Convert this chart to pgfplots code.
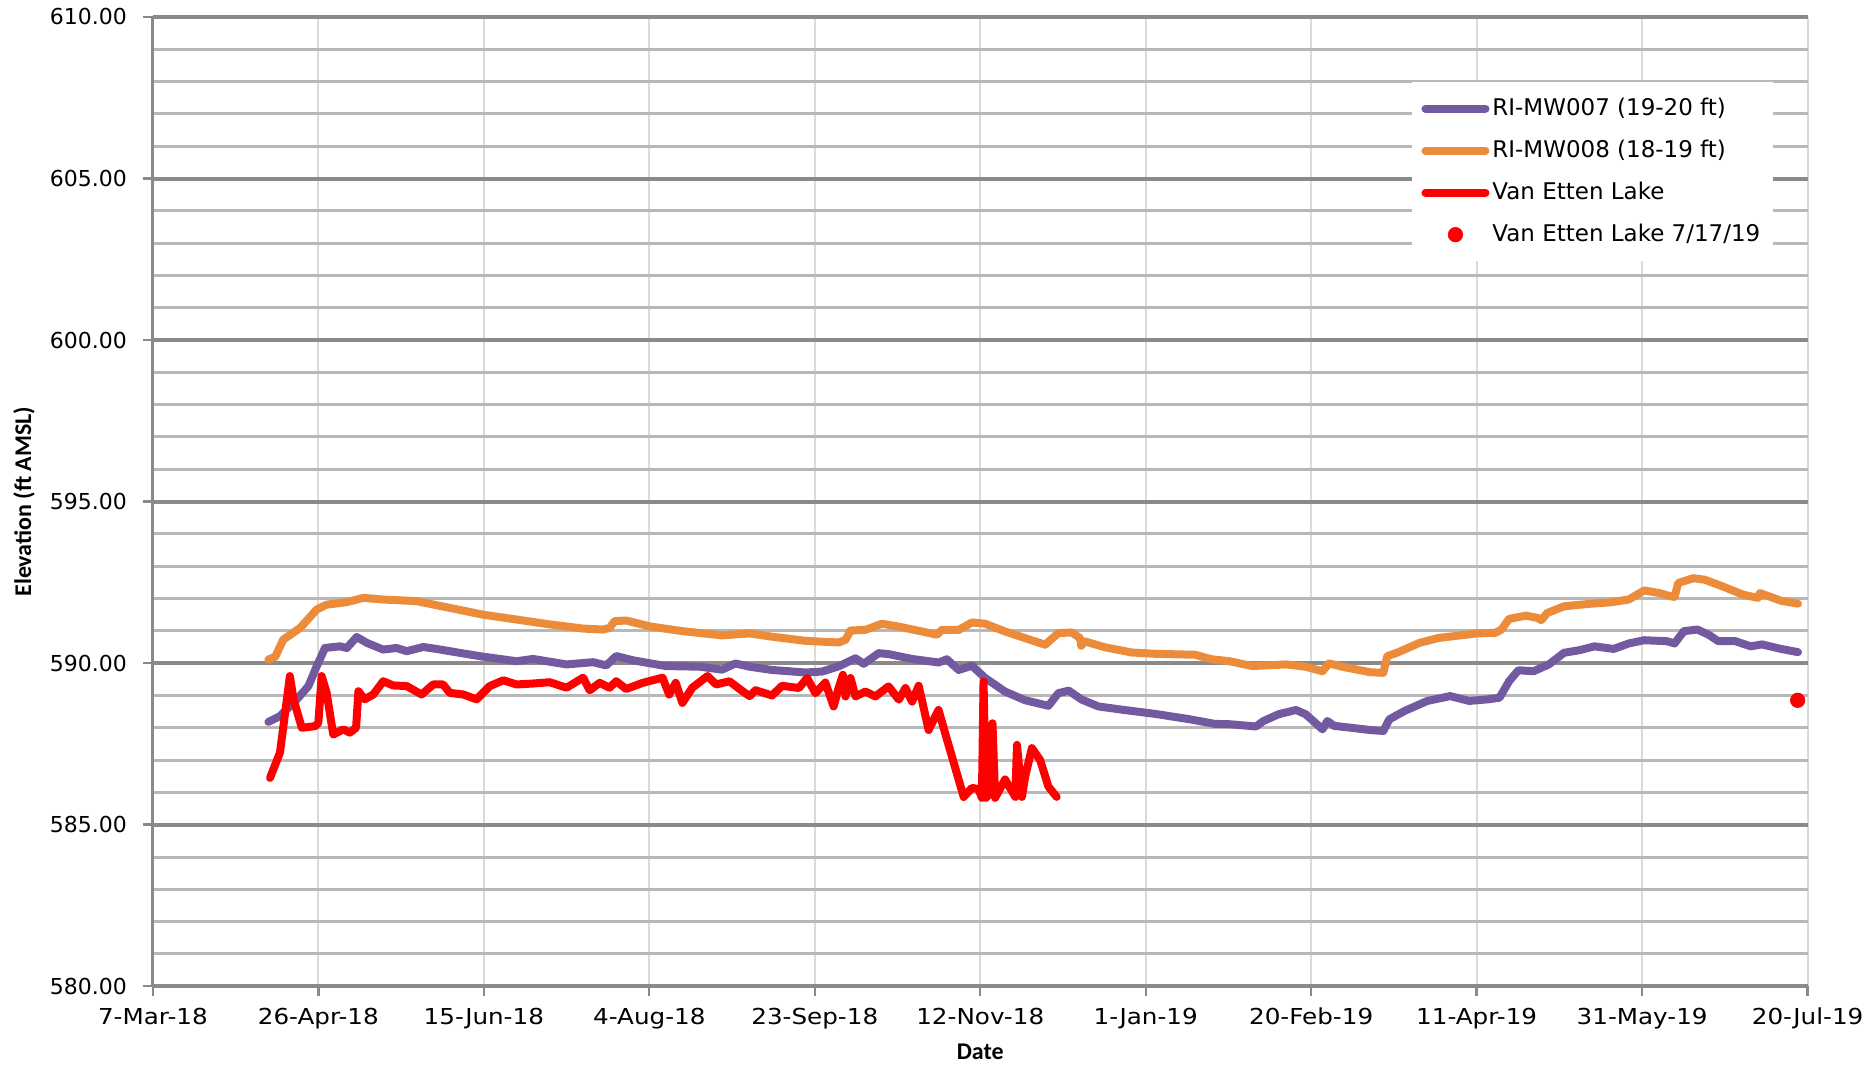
\documentclass[border=0pt]{standalone}
\usepackage{pgfplots}
\pgfplotsset{compat=1.18}
\usepackage{fontspec}
\setmainfont{DejaVu Sans}
\newfontfamily\carlito{Carlito}
\newfontfamily\widefont[FakeStretch=1.12]{DejaVu Sans}
\definecolor{mwpurple}{RGB}{115,90,160}
\definecolor{mworange}{RGB}{236,140,58}
\definecolor{lakered}{RGB}{255,0,0}
\definecolor{majgrid}{RGB}{138,138,138}
\definecolor{mingrid}{RGB}{184,184,184}
\definecolor{vgrid}{RGB}{218,218,218}
\begin{document}
\begin{tikzpicture}
\begin{axis}[
  scale only axis,
  width=828pt, height=485pt,
  xmin=0, xmax=500, ymin=580, ymax=610,
  xtick={0,50,...,500},
  xticklabels={7-Mar-18,26-Apr-18,15-Jun-18,4-Aug-18,23-Sep-18,12-Nov-18,1-Jan-19,20-Feb-19,11-Apr-19,31-May-19,20-Jul-19},
  ytick={580,585,...,610},
  minor ytick={581,582,583,584,586,587,588,589,591,592,593,594,596,597,598,599,601,602,603,604,606,607,608,609},
  yticklabel style={/pgf/number format/fixed, /pgf/number format/fixed zerofill, /pgf/number format/precision=2},
  /pgf/number format/assume math mode=true,
  tick label style={font=\fontsize{11}{13}\selectfont, text=black},
  yticklabel style={xshift=-4.5pt},
  xticklabel style={yshift=-2.5pt, font=\widefont\fontsize{11}{13}\selectfont},
  tick align=outside,
  major tick length=5pt,
  minor tick length=0pt,
  xtick style={draw=majgrid, line width=1.2pt},
  ytick style={draw=majgrid, line width=1.2pt},
  axis x line*=bottom, axis y line*=left,
  x axis line style={-, draw=majgrid, line width=2pt},
  y axis line style={-, draw=majgrid, line width=1.5pt},
  xmajorgrids, ymajorgrids, yminorgrids,
  x grid style={draw=vgrid, line width=0.9pt},
  y grid style={draw=majgrid, line width=2pt},
  minor y grid style={draw=mingrid, line width=1.5pt},
  xlabel={Date},
  ylabel={Elevation (ft AMSL)},
  xlabel style={font=\carlito\bfseries\fontsize{12}{14}\selectfont, at={(axis description cs:0.5,-0.068)}, anchor=center},
  ylabel style={font=\carlito\bfseries\fontsize{12}{14}\selectfont, at={(axis description cs:-0.0779,0.5)}, anchor=center},
  legend style={at={(rel axis cs:0.9795,0.933)}, anchor=north east, fill=white, draw=none,
    font=\fontsize{11.5}{13}\selectfont, row sep=6.8pt, inner xsep=5pt, inner ysep=6pt,
    nodes={inner xsep=1.5pt},
    /tikz/every even column/.append style={column sep=0pt}},
  legend cell align=left,
  legend image post style={line cap=round},
  legend image code/.code={\draw[#1] (0pt,0pt) -- (30pt,0pt);},
  every axis plot/.append style={line join=round, line cap=round},
]
% RI-MW007 (19-20 ft)
\addplot[color=mwpurple, line width=4pt] coordinates {
(34.9,588.18) (38.4,588.36) (43.5,588.88) (47,589.29) (49.5,589.9) (52,590.47) (56.5,590.52) (58.6,590.47) (61.6,590.81) (64.6,590.63) (69.6,590.42) (73.6,590.47) (76.7,590.37) (81.7,590.5) (85.7,590.44) (93.8,590.3) (99.8,590.2) (109.9,590.06) (114.9,590.13) (125,589.96) (133,590.03) (137,589.93) (140,590.22) (145,590.09) (155,589.91) (165.2,589.89) (172,589.8) (176,589.99) (180.3,589.89)
(187,589.79) (197.2,589.71) (202.2,589.74) (207.2,589.9) (212.3,590.15) (214.8,589.98) (219.3,590.31) (222.3,590.28) (229.4,590.13) (237.4,590.02) (239.9,590.12) (243.5,589.79) (247.5,589.92) (251.5,589.54) (257.5,589.12) (263.6,588.85) (270.6,588.68) (273.6,589.07) (276.7,589.15) (280.7,588.87) (285.7,588.66) (292.8,588.56) (302.8,588.43) (312.9,588.27) (320.9,588.12) (325.3,588.11)
(333.3,588.04) (335.6,588.21) (340.2,588.42) (345.4,588.55) (348.3,588.42) (351.7,588.11) (353.4,587.95) (354.9,588.21) (356.9,588.06) (362.1,588.0) (367.8,587.93) (371.8,587.9) (373.6,588.26) (378.2,588.52) (385.1,588.83) (392,588.98) (397.7,588.83) (403.4,588.88) (406.9,588.93) (409.8,589.44) (412.6,589.78) (417.2,589.75) (421.8,589.96) (426.4,590.32) (431,590.4) (435.6,590.52) (441.4,590.44) (446,590.61) (450.6,590.71) (457.5,590.68) (459.8,590.61) (462.6,590.99) (466.7,591.04) (470.1,590.88) (473,590.68) (478.2,590.68) (482.8,590.52) (486.2,590.58) (492,590.44) (497.1,590.34)
};
\addlegendentry{RI-MW007 (19-20 ft)}
% RI-MW008 (18-19 ft)
\addplot[color=mworange, line width=4pt] coordinates {
(34.9,590.11) (37,590.2) (39.4,590.73) (44.5,591.09) (49.5,591.66) (52.5,591.81) (58.6,591.89) (63.6,592.02) (69.6,591.97) (79.7,591.92) (89.7,591.71) (99.8,591.5) (109.9,591.35) (119.9,591.2) (130,591.07) (136,591.04) (138,591.09) (139.5,591.3) (143,591.32) (150,591.14) (160,590.99) (172,590.86) (180.3,590.92)
(187,590.82) (197.2,590.69) (207.2,590.64) (209.3,590.72) (210.8,591.01) (215.3,591.03) (220.3,591.22) (225.4,591.13) (232.4,590.98) (236.9,590.88) (238.4,591.03) (243.5,591.03) (247.5,591.26) (251.5,591.22) (257.5,590.98) (264.6,590.74) (269.6,590.57) (273.6,590.93) (277.7,590.95) (280.2,590.77) (280.5,590.54) (281.7,590.67) (287.7,590.49) (295.8,590.33) (302.8,590.29) (314.9,590.26) (319.9,590.12) (325.3,590.06)
(332.2,589.91) (342.5,589.96) (348.3,589.89) (353.4,589.75) (355.4,589.99) (359.8,589.88) (367.8,589.72) (371.8,589.7) (373,590.22) (375.9,590.32) (382.8,590.63) (388.5,590.78) (394.3,590.85) (400,590.92) (405.7,590.94) (407.5,591.04) (409.8,591.37) (414.9,591.47) (418.4,591.4) (419.5,591.33) (421.3,591.55) (426.4,591.76) (434.5,591.84) (440.2,591.88) (446,591.97) (450.6,592.25) (455.2,592.17) (458.6,592.07) (459.8,592.05) (460.9,592.48) (465.5,592.63) (469,592.58) (474.7,592.36) (480.5,592.12) (485,592.02) (485.6,592.17) (492,591.93) (497.1,591.84)
};
\addlegendentry{RI-MW008 (18-19 ft)}
% Van Etten Lake
\addplot[color=lakered, line width=4pt] coordinates {
(35.4,586.45) (38.4,587.23) (41.4,589.6) (42.5,588.88) (45,588.0) (49,588.05) (50,588.15) (51,589.6) (52.5,589.08) (54.5,587.79) (57.5,587.95) (59.5,587.85) (61.4,588.0) (62.1,589.13) (64,588.88) (66.6,589.03) (69.6,589.44) (72.6,589.31) (76.7,589.29) (81.2,589.03) (84.7,589.34) (87.7,589.34) (89.7,589.08) (93.8,589.03) (97.8,588.88) (101.8,589.29) (105.9,589.47) (109.9,589.34) (114.9,589.37) (119.9,589.41) (125,589.24) (130,589.55) (132,589.16) (135,589.39) (138,589.24) (140,589.44) (143,589.2) (148,589.39) (154,589.55) (156,589.03) (158,589.39) (160,588.77) (163,589.24) (167.6,589.6) (170.2,589.34) (174.2,589.44) (178.2,589.13) (180.3,588.98)
(182.1,589.16) (187.1,589.0) (190.1,589.3) (195.2,589.23) (197.7,589.54) (200.2,589.07) (203.2,589.4) (205.7,588.66) (207.2,589.23) (208.5,589.64) (209.3,588.97) (210.8,589.54) (212.3,588.97) (215.3,589.12) (218.3,588.97) (222.3,589.28) (225.4,588.87) (227.4,589.23) (229.4,588.81) (231.4,589.3) (234.4,587.93) (237.4,588.55) (239.4,587.83) (245,585.86) (247.5,586.14) (249.5,586.1) (250.5,585.83) (251,589.43) (251.7,585.83) (253,585.98) (253.7,588.14) (254.5,585.83) (257.5,586.4) (260.6,585.86) (261.1,587.47) (262.6,585.86) (263.6,586.5) (265.6,587.37) (268.1,587.0) (270.6,586.18) (273.1,585.86)
};
\addlegendentry{Van Etten Lake}
% Van Etten Lake 7/17/19
\addplot[only marks, mark=*, mark size=3.6pt, color=lakered, legend image code/.code={\fill[lakered] (15pt,0pt) circle (3.6pt);}] coordinates {(497,588.85)};
\addlegendentry{Van Etten Lake 7/17/19}
\end{axis}
\path (-76.5pt,-39pt) rectangle (858.5pt,493.5pt);
\end{tikzpicture}
\end{document}
